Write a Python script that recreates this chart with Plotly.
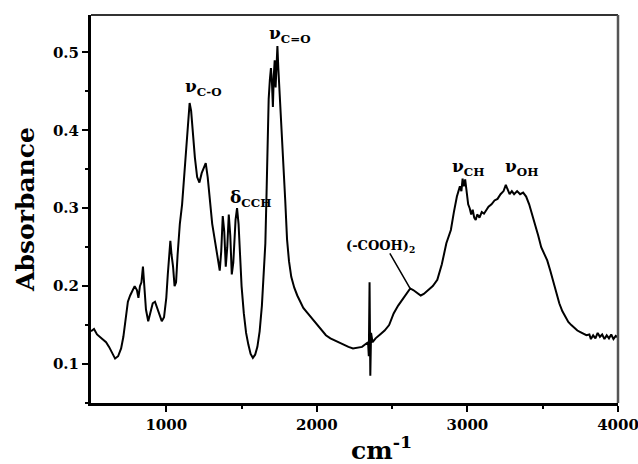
import plotly.graph_objects as go

# Wavenumber (cm^-1) and absorbance
wavenumber = [
    500, 520, 540, 560, 580, 600, 620, 640, 660, 680, 700, 715, 730, 745, 760, 775, 790, 805, 815, 825,
    835, 845, 855, 865, 880, 895, 910, 925, 940, 955, 970, 985, 1000, 1010, 1020, 1027, 1035, 1045, 1055, 1065,
    1075, 1090, 1105, 1120, 1135, 1145, 1155, 1165, 1175, 1190, 1205, 1220, 1235, 1250, 1262, 1275, 1290, 1305, 1320, 1335,
    1345, 1355, 1365, 1375, 1385, 1395, 1405, 1415, 1425, 1435, 1445, 1460, 1470, 1480, 1490, 1500, 1515, 1530, 1545, 1560,
    1575, 1590, 1605, 1620, 1635, 1648, 1658, 1666, 1673, 1680, 1688, 1695, 1702, 1708, 1714, 1720, 1726, 1732, 1738, 1744,
    1750, 1756, 1765, 1775, 1790, 1802, 1815, 1830, 1850, 1870, 1890, 1910, 1940, 1970, 2000, 2030, 2060, 2090, 2120, 2150,
    2180, 2210, 2240, 2270, 2300, 2320, 2340, 2345, 2350, 2355, 2360, 2370, 2390, 2420, 2450, 2480, 2510, 2540, 2570, 2600,
    2620, 2640, 2660, 2690, 2710, 2740, 2770, 2800, 2830, 2860, 2890, 2910, 2930, 2950, 2960, 2968, 2976, 2985, 2995, 3005,
    3015, 3025, 3035, 3045, 3055, 3065, 3080, 3095, 3110, 3125, 3140, 3160, 3180, 3200, 3220, 3240, 3255, 3265, 3280, 3295,
    3310, 3330, 3350, 3370, 3390, 3410, 3430, 3450, 3470, 3490, 3510, 3530, 3550, 3570, 3590, 3610, 3630, 3650, 3670, 3690,
    3710, 3730, 3750, 3770, 3790, 3810, 3820, 3835, 3850, 3865, 3880, 3895, 3910, 3925, 3940, 3955, 3970, 3985, 4000,
]
absorbance = [
    0.142, 0.145, 0.138, 0.135, 0.132, 0.128, 0.122, 0.114, 0.107, 0.110, 0.120, 0.135, 0.155, 0.180, 0.188, 0.195, 0.200, 0.195, 0.185, 0.200,
    0.205, 0.225, 0.200, 0.170, 0.155, 0.168, 0.178, 0.180, 0.172, 0.165, 0.155, 0.160, 0.185, 0.215, 0.240, 0.258, 0.240, 0.225, 0.200, 0.205,
    0.240, 0.280, 0.305, 0.345, 0.375, 0.405, 0.435, 0.425, 0.395, 0.365, 0.340, 0.333, 0.345, 0.352, 0.358, 0.340, 0.305, 0.280, 0.262, 0.245,
    0.230, 0.220, 0.245, 0.290, 0.270, 0.225, 0.250, 0.292, 0.265, 0.215, 0.230, 0.285, 0.300, 0.280, 0.240, 0.200, 0.165, 0.140, 0.125, 0.113,
    0.108, 0.112, 0.122, 0.142, 0.175, 0.215, 0.255, 0.320, 0.395, 0.440, 0.465, 0.480, 0.460, 0.430, 0.470, 0.490, 0.455, 0.495, 0.508, 0.480,
    0.460, 0.440, 0.400, 0.370, 0.310, 0.260, 0.232, 0.212, 0.198, 0.188, 0.180, 0.172, 0.165, 0.158, 0.150, 0.143, 0.137, 0.133, 0.130, 0.127,
    0.125, 0.122, 0.120, 0.121, 0.122, 0.125, 0.128, 0.110, 0.205, 0.085, 0.140, 0.128, 0.133, 0.138, 0.143, 0.150, 0.165, 0.175, 0.183, 0.192,
    0.197, 0.195, 0.192, 0.188, 0.190, 0.195, 0.200, 0.208, 0.228, 0.255, 0.272, 0.295, 0.315, 0.328, 0.322, 0.338, 0.328, 0.337, 0.322, 0.305,
    0.300, 0.292, 0.298, 0.288, 0.285, 0.292, 0.288, 0.295, 0.293, 0.298, 0.302, 0.305, 0.310, 0.312, 0.318, 0.322, 0.330, 0.325, 0.318, 0.322,
    0.318, 0.322, 0.318, 0.320, 0.315, 0.305, 0.292, 0.280, 0.265, 0.250, 0.242, 0.233, 0.220, 0.205, 0.190, 0.178, 0.168, 0.160, 0.154, 0.150,
    0.146, 0.143, 0.141, 0.139, 0.137, 0.138, 0.132, 0.137, 0.133, 0.140, 0.135, 0.138, 0.132, 0.137, 0.133, 0.138, 0.132, 0.136, 0.134,
]

# Peak labels: (text, x, y)
peak_labels = [
    ("ν<sub>C-O</sub>", 1111, 0.455),
    ("ν<sub>C=O</sub>", 1669, 0.523),
    ("δ<sub>CCH</sub>", 1410, 0.312),
    ("ν<sub>CH</sub>", 2884, 0.352),
    ("ν<sub>OH</sub>", 3236, 0.352),
]

FONT = "DejaVu Serif"

fig = go.Figure()
fig.add_trace(go.Scatter(
    x=wavenumber, y=absorbance, mode="lines",
    line=dict(color="black", width=2), showlegend=False, hoverinfo="skip",
))

for text, x, y in peak_labels:
    fig.add_annotation(x=x, y=y, text="<b>" + text + "</b>", showarrow=False,
                       xanchor="left", yanchor="middle",
                       font=dict(family=FONT, size=17, color="black"))

fig.add_annotation(x=2619, y=0.197, ax=2479, ay=0.244, axref="x", ayref="y",
                   text="", showarrow=True, arrowhead=0, arrowwidth=1.5, arrowcolor="black")
fig.add_annotation(x=2180, y=0.251, text="<b>(-COOH)<sub>2</sub></b>", showarrow=False,
                   xanchor="left", yanchor="middle",
                   font=dict(family=FONT, size=13, color="black"))

# x-axis title as annotation
fig.add_annotation(xref="paper", yref="paper", x=0.49, y=-0.118, xanchor="left", yanchor="middle",
                   text="<b>cm<sup>-1</sup></b>", showarrow=False,
                   font=dict(family=FONT, size=25, color="black"))

# top and right frame lines
fig.add_shape(type="line", xref="paper", yref="paper", x0=0, x1=1, y0=1, y1=1,
              line=dict(color="#333333", width=2))
fig.add_shape(type="line", xref="paper", yref="paper", x0=1, x1=1, y0=0, y1=1,
              line=dict(color="#555555", width=2.5))

fig.update_layout(
    width=638, height=464,
    margin=dict(l=91, r=20, t=15, b=61),
    paper_bgcolor="white", plot_bgcolor="white",
    font=dict(family=FONT, color="black"),
    xaxis=dict(
        range=[500, 4000], tickmode="array", tickvals=[1000, 2000, 3000, 4000],
        ticktext=["1000", "2000", "3000", "4000"], automargin=False,
        showgrid=False, zeroline=False, ticklabeloverflow="allow",
        showline=True, linecolor="black", linewidth=3,
        ticks="outside", ticklen=6, tickwidth=2, tickcolor="black",
        tickfont=dict(family=FONT, size=15, color="black", weight="bold"),
        minor=dict(tickvals=[1500, 2500, 3500], ticks="outside", ticklen=3, tickwidth=2, tickcolor="black"),
    ),
    yaxis=dict(
        range=[0.05, 0.548], tick0=0, dtick=0.1, showgrid=False, zeroline=False,
        showline=True, linecolor="black", linewidth=3, automargin=False,
        ticks="outside", ticklen=6, tickwidth=2, tickcolor="black",
        tickfont=dict(family=FONT, size=15, color="black", weight="bold"),
        minor=dict(dtick=0.05, tick0=0.05, ticks="outside", ticklen=3, tickwidth=2, tickcolor="black"),
        title=dict(text="<b>Absorbance</b>", font=dict(family=FONT, size=25, color="black"), standoff=12),
    ),
)

fig.write_html("out.html")
